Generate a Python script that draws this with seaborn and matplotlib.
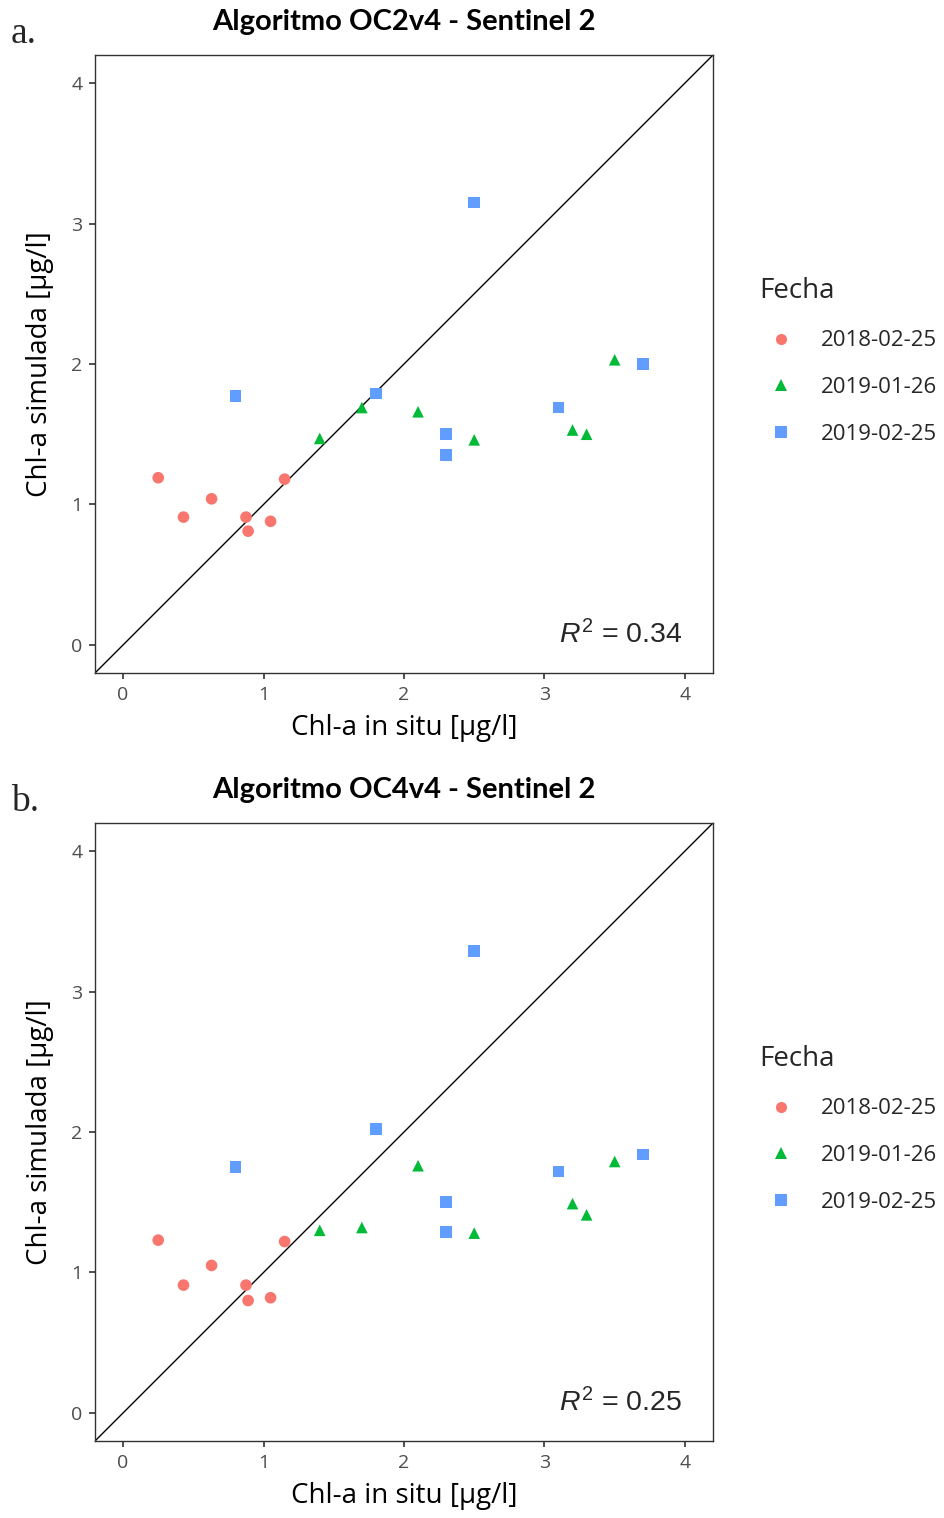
import numpy as np
import pandas as pd
import matplotlib
matplotlib.use("Agg")
import matplotlib.pyplot as plt
from matplotlib.lines import Line2D
import seaborn as sns

# ---- data ----
fechas = ["2018-02-25", "2019-01-26", "2019-02-25"]
colores = ["#F8766D", "#00BA38", "#619CFF"]
marcadores = ["o", "^", "s"]

insitu_2018 = [0.25, 0.43, 0.63, 0.875, 0.89, 1.05, 1.15]
insitu_2019a = [1.40, 1.70, 2.10, 2.50, 3.20, 3.30, 3.50]
insitu_2019b = [0.80, 1.80, 2.30, 2.30, 2.50, 3.10, 3.70]

oc2_2018 = [1.19, 0.91, 1.04, 0.91, 0.81, 0.88, 1.18]
oc2_2019a = [1.47, 1.69, 1.66, 1.46, 1.53, 1.50, 2.03]
oc2_2019b = [1.77, 1.79, 1.50, 1.35, 3.15, 1.69, 2.00]

oc4_2018 = [1.23, 0.91, 1.05, 0.91, 0.80, 0.82, 1.22]
oc4_2019a = [1.30, 1.32, 1.76, 1.28, 1.49, 1.41, 1.79]
oc4_2019b = [1.75, 2.02, 1.50, 1.29, 3.29, 1.72, 1.84]

titulos = ["Algoritmo OC2v4 - Sentinel 2", "Algoritmo OC4v4 - Sentinel 2"]
letras = ["a.", "b."]
r2_vals = ["0.34", "0.25"]
ticks = [0, 1, 2, 3, 4]


def build_df(sim_lists):
    insitu = [insitu_2018, insitu_2019a, insitu_2019b]
    rows = []
    for f, xs, ys in zip(fechas, insitu, sim_lists):
        for x, y in zip(xs, ys):
            rows.append({"insitu": x, "sim": y, "Fecha": f})
    return pd.DataFrame(rows)


dfs = [build_df([oc2_2018, oc2_2019a, oc2_2019b]),
       build_df([oc4_2018, oc4_2019a, oc4_2019b])]

sns.set_theme(style="white")
plt.rcParams["font.family"] = ["Open Sans", "DejaVu Sans"]
plt.rcParams["mathtext.fontset"] = "custom"
plt.rcParams["mathtext.rm"] = "Liberation Sans"
plt.rcParams["mathtext.it"] = "Liberation Sans:italic"

W, H = 945, 1518
fig = plt.figure(figsize=(W / 100, H / 100), dpi=100)

palette = dict(zip(fechas, colores))
markers = dict(zip(fechas, marcadores))

panel_tops = [55, 823]
left, right = 95, 713
size = 618

for i, (df, top) in enumerate(zip(dfs, panel_tops)):
    ax = fig.add_axes([left / W, (H - top - size) / H, size / W, size / H])
    lim = (-0.2, 4.2)
    ax.plot(lim, lim, color="black", lw=1.0, zorder=1)
    sns.scatterplot(data=df, x="insitu", y="sim", hue="Fecha", style="Fecha",
                    palette=palette, markers=markers, hue_order=fechas,
                    style_order=fechas, s=70, linewidth=0, legend=False,
                    ax=ax, zorder=3)
    ax.set_xlim(lim)
    ax.set_ylim(lim)
    ax.set_xticks(ticks)
    ax.set_yticks(ticks)
    ax.tick_params(axis="both", which="both", direction="out", length=4,
                   width=1.2, color="#333333", labelsize=14, labelcolor="#4D4D4D",
                   bottom=True, left=True)
    ax.tick_params(axis="x", pad=5)
    ax.tick_params(axis="y", pad=5)
    for sp in ax.spines.values():
        sp.set_color("#333333")
        sp.set_linewidth(1.0)
    ax.grid(False)
    ax.set_xlabel("Chl-a in situ [µg/l]", fontsize=20, color="black", va="center")
    ax.xaxis.set_label_coords(0.5, (673 - 728) / size)
    ax.set_ylabel("Chl-a simulada [µg/l]", fontsize=20, color="black",
                  va="center", ha="center")
    ax.yaxis.set_label_coords((40 - 95) / size, 0.5)
    fig.text(404 / W, 1 - (top - 33) / H, titulos[i], fontsize=21, fontweight="bold",
             family=["Lato", "DejaVu Sans"], ha="center", va="center", color="black")
    ax.text((682 - left) / size, (673 - 643) / size, r"$R^2$ = " + r2_vals[i],
            transform=ax.transAxes, ha="right", va="baseline", fontsize=20.5,
            family=["Liberation Sans", "DejaVu Sans"])
    fig.text(11 / W, 1 - (top - 12) / H, letras[i], fontsize=27,
             family=["Liberation Serif", "DejaVu Serif"], ha="left", va="baseline")

    handles = [Line2D([], [], marker=markers[f], color=palette[f], linestyle="",
                      markersize=8, markeredgewidth=0) for f in fechas]
    leg = fig.legend(handles, fechas, title="Fecha", loc="upper left",
                     bbox_to_anchor=(750 / W, 1 - (top + 213) / H),
                     frameon=False, fontsize=16, title_fontsize=20,
                     labelspacing=1.15, handlelength=2.0, handletextpad=0.8,
                     borderaxespad=0)
    leg._legend_box.align = "left"

fig.savefig("out.png", dpi=100)
